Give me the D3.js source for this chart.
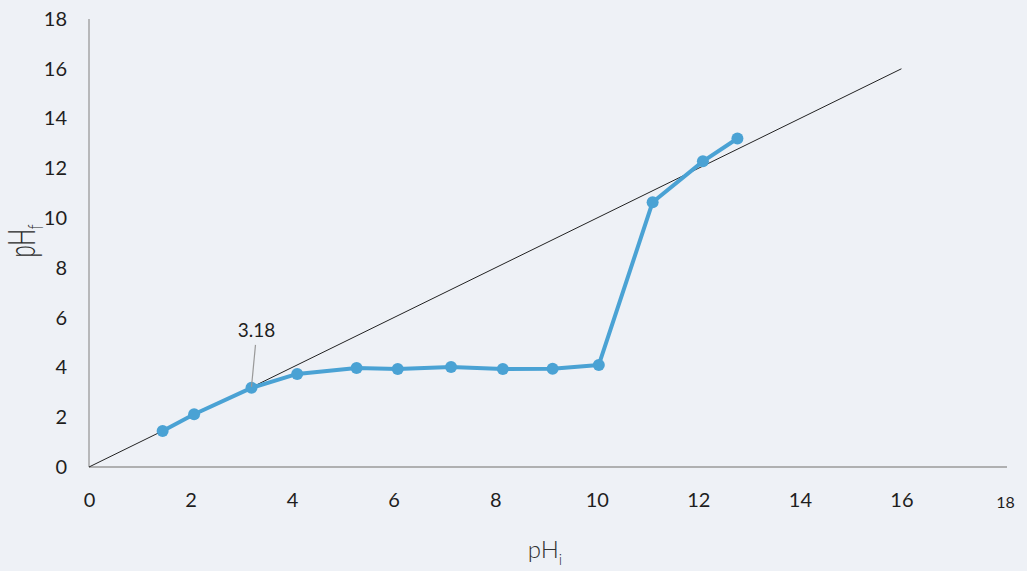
<!DOCTYPE html>
<html>
<head>
<meta charset="utf-8">
<script src="https://cdn.jsdelivr.net/npm/d3@7"></script>
<style>
  body { margin: 0; background: #eef1f6; }
  svg { display: block; font-family: Lato, "Open Sans", sans-serif; }
  .tick text { fill: #1e1e1e; }
</style>
</head>
<body>
<svg width="1027" height="571"></svg>
<script>
// data
var phInitial = [1.45, 2.07, 3.2, 4.1, 5.27, 6.08, 7.13, 8.15, 9.13, 10.04, 11.1, 12.09, 12.77];
var phFinal   = [1.45, 2.12, 3.18, 3.74, 3.98, 3.94, 4.02, 3.94, 3.95, 4.1, 10.64, 12.28, 13.2];
var xTicks = [0, 2, 4, 6, 8, 10, 12, 14, 16, 18];
var yTicks = [0, 2, 4, 6, 8, 10, 12, 14, 16, 18];
var refLine = [0, 16];   // pHf = pHi
var noteIndex = 2;       // the point labelled 3.18

var svg = d3.select("svg");

var x = d3.scaleLinear().domain([0, 18]).range([89, 1003]);
var y = d3.scaleLinear().domain([0, 18]).range([467, 19]);

// axis lines
svg.append("line")
    .attr("x1", x(0)).attr("x2", x(0))
    .attr("y1", y(18)).attr("y2", y(0))
    .attr("stroke", "#9a9a9a").attr("stroke-width", 1.3);
svg.append("line")
    .attr("x1", x(0)).attr("x2", 1007)
    .attr("y1", y(0)).attr("y2", y(0))
    .attr("stroke", "#9a9a9a").attr("stroke-width", 1.3);

// tick labels
var yAxis = svg.append("g")
    .attr("transform", "translate(" + x(0) + ",0)")
    .call(d3.axisLeft(y).tickValues(yTicks).tickSize(0).tickPadding(22))
    .attr("font-family", "Lato, sans-serif")
    .attr("font-size", 20);
yAxis.select(".domain").remove();

var xAxis = svg.append("g")
    .attr("transform", "translate(0," + y(0) + ")")
    .call(d3.axisBottom(x).tickValues(xTicks).tickSize(0).tickPadding(26))
    .attr("font-family", "Lato, sans-serif")
    .attr("font-size", 20);
xAxis.select(".domain").remove();
// the last label sits a little lower and smaller in the original
xAxis.selectAll(".tick").filter(function (d) { return d === 18; })
    .select("text").attr("font-size", 16).attr("x", 2).attr("y", 30);

// axis titles
var yTitle = svg.append("text")
    .attr("transform", "translate(35,241) rotate(-90) scale(0.6,1)")
    .attr("text-anchor", "middle")
    .attr("font-size", 37)
    .attr("font-weight", 300)
    .attr("fill", "#2a2a2a");
yTitle.append("tspan").text("pH");
yTitle.append("tspan").attr("font-size", 22).attr("dy", 8).text("f");

var xTitle = svg.append("text")
    .attr("x", 545).attr("y", 558)
    .attr("text-anchor", "middle")
    .attr("font-size", 24)
    .attr("font-weight", 300)
    .attr("fill", "#333");
xTitle.append("tspan").text("pH");
xTitle.append("tspan").attr("font-size", 15).attr("dy", 7).text("i");

// reference line pHf = pHi
svg.append("line")
    .attr("x1", x(refLine[0])).attr("y1", y(refLine[0]))
    .attr("x2", x(refLine[1])).attr("y2", y(refLine[1]))
    .attr("stroke", "#222").attr("stroke-width", 1);

// data series
var pts = phInitial.map(function (d, i) { return [d, phFinal[i]]; });
var line = d3.line()
    .x(function (d) { return x(d[0]); })
    .y(function (d) { return y(d[1]); });

svg.append("path")
    .datum(pts)
    .attr("d", line)
    .attr("fill", "none")
    .attr("stroke", "#4aa2d4")
    .attr("stroke-width", 4)
    .attr("stroke-linejoin", "round");

svg.selectAll(".pt")
    .data(pts)
    .enter().append("circle")
    .attr("class", "pt")
    .attr("cx", function (d) { return x(d[0]); })
    .attr("cy", function (d) { return y(d[1]); })
    .attr("r", 6)
    .attr("fill", "#4aa2d4");

// annotation
var np = pts[noteIndex];
svg.append("line")
    .attr("x1", x(np[0]) + 4).attr("y1", y(np[1]) - 43)
    .attr("x2", x(np[0])).attr("y2", y(np[1]) - 1)
    .attr("stroke", "#999").attr("stroke-width", 1.2);
svg.append("text")
    .attr("x", x(np[0]) + 5).attr("y", y(np[1]) - 51)
    .attr("text-anchor", "middle")
    .attr("font-size", 19)
    .attr("fill", "#1e1e1e")
    .text(np[1].toFixed(2));
</script>
</body>
</html>
